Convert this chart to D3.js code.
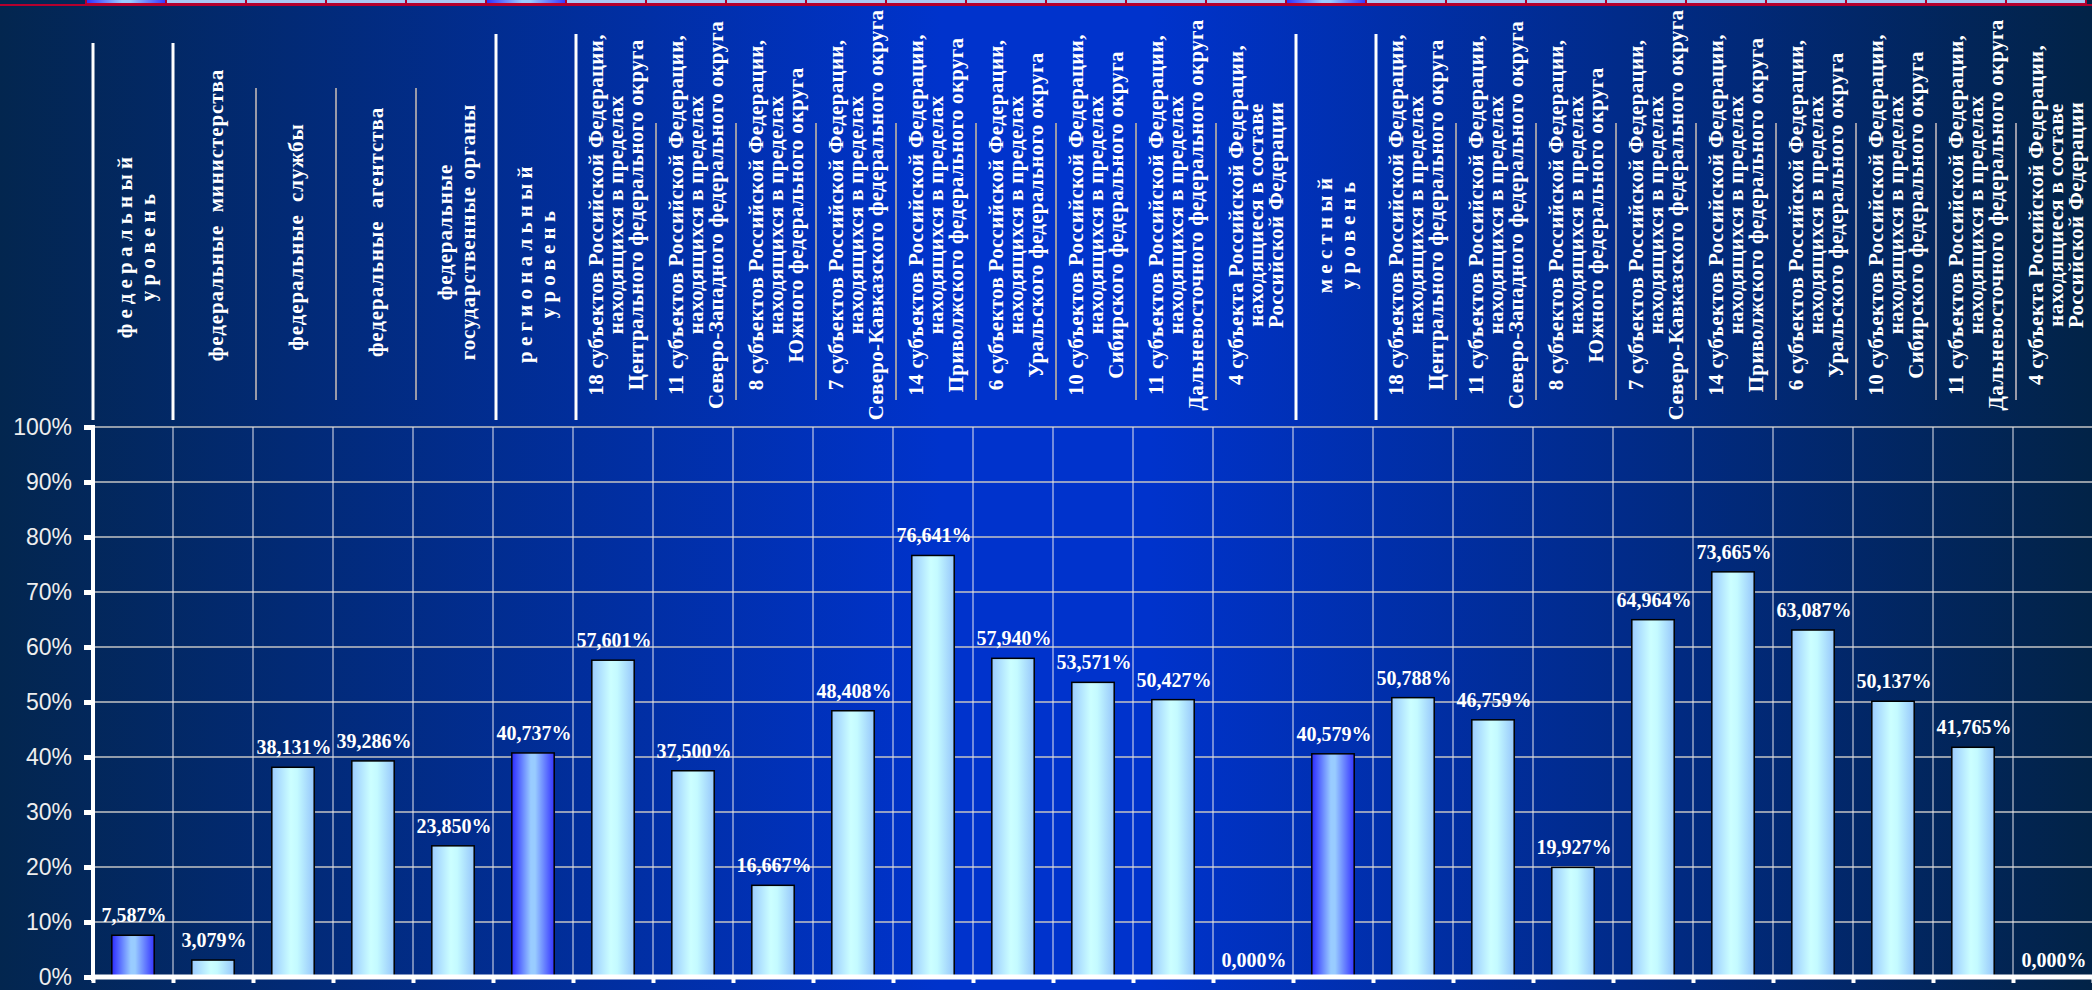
<!DOCTYPE html>
<html>
<head>
<meta charset="utf-8">
<script src="https://cdn.jsdelivr.net/npm/d3@7.9.0/dist/d3.min.js"></script>
<style>
  body { margin: 0; background: #02244a; }
  svg { display: block; }
  .head text { font-family: "Liberation Serif", "Times New Roman", serif; font-weight: bold; fill: #fff; }
  .val { font-family: "Liberation Serif", "Times New Roman", serif; font-weight: bold; fill: #fff; font-size: 20px; }
  .yax text { font-family: "Liberation Sans", Arial, sans-serif; font-size: 23px; fill: #eeeeee; }
</style>
</head>
<body>
<svg id="chart" width="2092" height="990"></svg>
<script>
const okrugLabels = [
  ["18 субъектов Российской Федерации,", "находящихся в пределах", "Центрального федерального округа"],
  ["11 субъектов Российской Федерации,", "находящихся в пределах", "Северо-Западного федерального округа"],
  ["8 субъектов Российской Федерации,", "находящихся в пределах", "Южного федерального округа"],
  ["7 субъектов Российской Федерации,", "находящихся в пределах", "Северо-Кавказского федерального округа"],
  ["14 субъектов Российской Федерации,", "находящихся в пределах", "Приволжского федерального округа"],
  ["6 субъектов Российской Федерации,", "находящихся в пределах", "Уральского федерального округа"],
  ["10 субъектов Российской Федерации,", "находящихся в пределах", "Сибирского федерального округа"],
  ["11 субъектов Российской Федерации,", "находящихся в пределах", "Дальневосточного федерального округа"],
  ["4 субъекта Российской Федерации,", "находящиеся в составе", "Российской Федерации"]
];
const federalLabels = [
  ["федеральный", "уровень"],
  ["федеральные  министерства"],
  ["федеральные  службы"],
  ["федеральные  агентства"],
  ["федеральные", "государственные органы"]
];
const categories = [
  ...federalLabels,
  ["региональный", "уровень"],
  ...okrugLabels,
  ["местный", "уровень"],
  ...okrugLabels
];
const values = [
  7.587, 3.079, 38.131, 39.286, 23.850,
  40.737, 57.601, 37.500, 16.667, 48.408, 76.641, 57.940, 53.571, 50.427, 0.000,
  40.579, 50.788, 46.759, 19.927, 64.964, 73.665, 63.087, 50.137, 41.765, 0.000
];
// columns that show a whole level (federal, regional, local)
const levelCols = [0, 5, 15];
const yTicks = [0, 10, 20, 30, 40, 50, 60, 70, 80, 90, 100];

const W = 2092, H = 990;
const svg = d3.select("#chart");
const defs = svg.append("defs");

function grad(id, stops) {
  let g = defs.append("linearGradient").attr("id", id)
    .attr("x1", "0%").attr("x2", "100%").attr("y1", "0%").attr("y2", "0%");
  stops.forEach(([o, c]) => g.append("stop").attr("offset", o).attr("stop-color", c));
}
grad("bg", [[0, "#03264f"], [0.45, "#0033cc"], [0.55, "#0033cc"], [1, "#022347"]]);
grad("barLight", [[0, "#9acbff"], [0.45, "#ccffff"], [0.6, "#c4faff"], [1, "#96c6fb"]]);
grad("barLevel", [[0, "#2b2bff"], [0.45, "#99ccff"], [0.55, "#99ccff"], [1, "#3535ff"]]);

svg.append("rect").attr("width", W).attr("height", H).attr("fill", "url(#bg)");

const n = values.length;
const x = d3.scaleBand().domain(d3.range(n)).range([93, 2093]).padding(0);
const xEdge = d3.scaleLinear().domain([0, n]).range([93, 2093]);
const y = d3.scaleLinear().domain([0, 100]).range([977, 427]);
const isLevel = i => levelCols.includes(i);

// strip of cut-off cells along the top edge
const xTop = d3.scaleBand().domain(d3.range(n)).range([86, 2086]);
svg.append("g").selectAll("rect").data(values).join("rect")
  .attr("x", (d, i) => xTop(i))
  .attr("y", -3)
  .attr("width", xTop.bandwidth())
  .attr("height", 7)
  .attr("fill", (d, i) => isLevel(i) ? "url(#barLevel)" : "#a9c9f4")
  .attr("stroke", "#b4002e")
  .attr("stroke-width", 2);
svg.append("line").attr("x1", 0).attr("x2", W).attr("y1", 5).attr("y2", 5)
  .attr("stroke", "#b4002e").attr("stroke-width", 2);

// horizontal grid
svg.append("g")
  .selectAll("line").data(yTicks.filter(d => d > 0)).join("line")
  .attr("x1", 93).attr("x2", 2093)
  .attr("y1", d => y(d)).attr("y2", d => y(d))
  .attr("stroke", "#c4c4c4").attr("stroke-width", 1.5);

// vertical grid at column borders
svg.append("g")
  .selectAll("line").data(d3.range(1, n)).join("line")
  .attr("x1", d => xEdge(d)).attr("x2", d => xEdge(d))
  .attr("y1", y(100)).attr("y2", y(0))
  .attr("stroke", "#e6e6ee").attr("stroke-width", 1);

// bars
const barW = x.bandwidth() * 0.53;
svg.append("g")
  .selectAll("rect").data(values).join("rect")
  .attr("x", (d, i) => x(i) + (x.bandwidth() - barW) / 2)
  .attr("y", d => y(d))
  .attr("width", barW)
  .attr("height", d => y(0) - y(d))
  .attr("fill", (d, i) => isLevel(i) ? "url(#barLevel)" : "url(#barLight)")
  .attr("stroke", "#000")
  .attr("stroke-width", 1.5)
  .attr("display", d => d > 0 ? null : "none");

// value labels
const fmt = d => d3.format(".3f")(d).replace(".", ",") + "%";
svg.append("g")
  .selectAll("text").data(values).join("text")
  .attr("class", "val")
  .attr("x", (d, i) => x(i) + x.bandwidth() / 2 + 1)
  .attr("y", d => y(d) - (d > 0 ? 13 : 10))
  .attr("text-anchor", "middle")
  .text(fmt);

// y axis
const yAxis = svg.append("g").attr("class", "yax")
  .attr("transform", "translate(93,0)")
  .call(d3.axisLeft(y).tickValues(yTicks).tickFormat(d => d + "%").tickSize(9).tickPadding(12));
yAxis.select(".domain").attr("stroke", "#fff").attr("stroke-width", 4).attr("d", `M0,${y(100) - 2}V${y(0) + 4}`);
yAxis.selectAll(".tick line").attr("stroke", "#fff").attr("stroke-width", 5);

// x axis
const xAxis = svg.append("g")
  .attr("transform", `translate(0,${y(0)})`)
  .call(d3.axisBottom(xEdge).tickValues(d3.range(0, n + 1)).tickFormat("").tickSize(6));
xAxis.select(".domain").attr("stroke", "#fff").attr("stroke-width", 5).attr("d", `M91,0H${W}`);
xAxis.selectAll(".tick line").attr("stroke", "#fff").attr("stroke-width", 4);

// header separators
const whiteCols = [0, 1, 5, 6, 15, 16];
const sepTop = i => i < 2 ? 43 : (i < 5 ? 88 : (whiteCols.includes(i) ? 34 : 123));
svg.append("g")
  .selectAll("line").data(d3.range(n)).join("line")
  .attr("x1", i => xEdge(i) + (i < 2 ? 0 : 3))
  .attr("x2", i => xEdge(i) + (i < 2 ? 0 : 3))
  .attr("y1", sepTop)
  .attr("y2", i => whiteCols.includes(i) ? 420 : 400)
  .attr("stroke", i => whiteCols.includes(i) ? "#ffffff" : "#9a9aa8")
  .attr("stroke-width", i => whiteCols.includes(i) ? 3 : 2);

// header labels, rotated
const headCenter = [245, 215, 237, 232, 232, 262];
const head = svg.append("g").attr("class", "head");
head.selectAll("g").data(categories).join("g")
  .attr("transform", (d, i) => {
    let cy = i < 6 ? headCenter[i] : (i === 15 ? 233 : 215);
    return `translate(${x(i) + x.bandwidth() / 2 + 3},${cy}) rotate(-90)`;
  })
  .each(function (lines, i) {
    let pitch = lines.length === 3 ? 20 : 23;
    let spacing = lines.length === 3 ? 0.3 : (isLevel(i) ? 5.2 : 0.9);
    let t = d3.select(this).append("text")
      .attr("text-anchor", "middle")
      .attr("dominant-baseline", "central")
      .attr("font-size", 21)
      .attr("letter-spacing", spacing)
      .style("white-space", "pre");
    lines.forEach((line, k) => {
      t.append("tspan").attr("x", 0)
        .attr("y", (k - (lines.length - 1) / 2) * pitch)
        .text(line);
    });
  });
</script>
</body>
</html>
